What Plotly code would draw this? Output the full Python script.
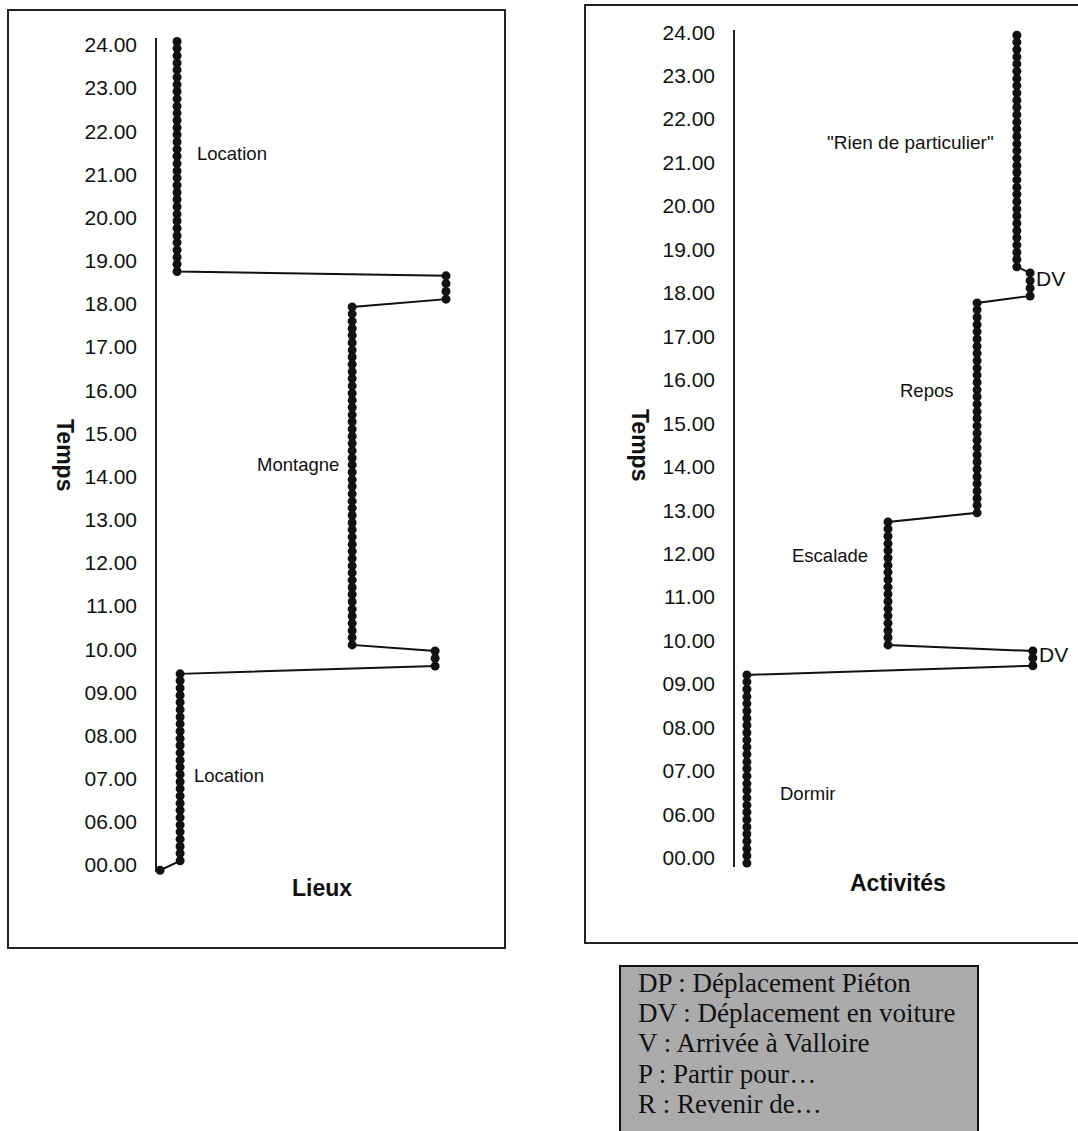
import plotly.graph_objects as go

W, H = 1078, 1131

# ---------------- data ----------------
TICK_LABELS = ["00.00", "06.00", "07.00", "08.00", "09.00", "10.00", "11.00",
               "12.00", "13.00", "14.00", "15.00", "16.00", "17.00", "18.00",
               "19.00", "20.00", "21.00", "22.00", "23.00", "24.00"]

# Lieux (left chart): time positions of each recorded point, per segment
lieux_start = [-0.12]
lieux_location_am = [0.10, 0.27, 0.43, 0.60, 0.77, 0.93, 1.10, 1.27, 1.43, 1.60,
                     1.77, 1.93, 2.10, 2.27, 2.43, 2.60, 2.77, 2.93, 3.10, 3.27,
                     3.43, 3.60, 3.77, 3.93, 4.10, 4.27, 4.43]
lieux_trajet_1 = [4.61, 4.79, 4.96]
lieux_montagne = [5.10, 5.27, 5.43, 5.60, 5.77, 5.93, 6.10, 6.27, 6.43, 6.60,
                  6.77, 6.93, 7.10, 7.27, 7.43, 7.60, 7.77, 7.93, 8.10, 8.27,
                  8.43, 8.60, 8.77, 8.93, 9.10, 9.27, 9.43, 9.60, 9.77, 9.93,
                  10.10, 10.27, 10.43, 10.60, 10.77, 10.93, 11.10, 11.27, 11.43,
                  11.60, 11.77, 11.93, 12.10, 12.27, 12.43, 12.60, 12.77, 12.93]
lieux_trajet_2 = [13.11, 13.29, 13.47, 13.65]
lieux_location_pm = [13.75, 13.92, 14.08, 14.25, 14.42, 14.58, 14.75, 14.92,
                     15.08, 15.25, 15.42, 15.58, 15.75, 15.92, 16.08, 16.25,
                     16.42, 16.58, 16.75, 16.92, 17.08, 17.25, 17.42, 17.58,
                     17.75, 17.92, 18.08, 18.25, 18.42, 18.58, 18.75, 18.92, 19.08]
lieux_segments = [lieux_start, lieux_location_am, lieux_trajet_1,
                  lieux_montagne, lieux_trajet_2, lieux_location_pm]
lieux_levels = [0.9, 6.8, 81.8, 57.4, 85.0, 5.9]

# Activités (right chart)
act_dormir = [-0.12, 0.05, 0.21, 0.38, 0.55, 0.71, 0.88, 1.05, 1.21, 1.38,
              1.55, 1.71, 1.88, 2.05, 2.21, 2.38, 2.55, 2.71, 2.88, 3.05,
              3.21, 3.38, 3.55, 3.71, 3.88, 4.05, 4.21]
act_dv_1 = [4.42, 4.60, 4.76]
act_escalade = [4.90, 5.07, 5.23, 5.40, 5.57, 5.73, 5.90, 6.07, 6.23, 6.40,
                6.57, 6.73, 6.90, 7.07, 7.23, 7.40, 7.57, 7.73]
act_repos = [7.94, 8.11, 8.27, 8.44, 8.61, 8.77, 8.94, 9.11, 9.27, 9.44,
             9.61, 9.77, 9.94, 10.11, 10.27, 10.44, 10.61, 10.77, 10.94, 11.11,
             11.27, 11.44, 11.61, 11.77, 11.94, 12.11, 12.27, 12.44, 12.61, 12.77]
act_dv_2 = [12.93, 13.11, 13.28, 13.46]
act_rien = [13.60, 13.77, 13.93, 14.10, 14.27, 14.43, 14.60, 14.77, 14.93,
            15.10, 15.27, 15.43, 15.60, 15.77, 15.93, 16.10, 16.27, 16.43,
            16.60, 16.77, 16.93, 17.10, 17.27, 17.43, 17.60, 17.77, 17.93,
            18.10, 18.27, 18.43, 18.60, 18.77, 18.93]
act_segments = [act_dormir, act_dv_1, act_escalade, act_repos, act_dv_2, act_rien]
act_levels = [3.5, 87.6, 45.0, 71.2, 86.8, 82.9]

LEGEND_LINES = ["DP : Déplacement Piéton", "DV : Déplacement en voiture",
                "V : Arrivée à Valloire", "P : Partir pour…", "R : Revenir de…"]


def build(segments, levels):
    xs, ys = [], []
    for seg, lv in zip(segments, levels):
        for v in seg:
            xs.append(lv)
            ys.append(v)
    return xs, ys


def px(x):
    return x / W


def py(y):
    return 1 - y / H


lx, ly = build(lieux_segments, lieux_levels)
ax_, ay_ = build(act_segments, act_levels)

fig = go.Figure()
mk = dict(size=9, color="#111111", symbol="circle")
ln = dict(color="#111111", width=2)
fig.add_trace(go.Scatter(x=lx, y=ly, mode="lines+markers", marker=mk, line=ln,
                         xaxis="x", yaxis="y", showlegend=False, cliponaxis=False))
fig.add_trace(go.Scatter(x=ax_, y=ay_, mode="lines+markers", marker=mk, line=ln,
                         xaxis="x2", yaxis="y2", showlegend=False, cliponaxis=False))

tickfont = dict(family="Liberation Sans, Arial, sans-serif", size=21, color="#111111")
yaxis_common = dict(tickvals=list(range(len(TICK_LABELS))), ticktext=TICK_LABELS,
                    showline=True, linecolor="#222222", linewidth=1.5,
                    showgrid=False, zeroline=False, ticks="outside", ticklen=14,
                    tickcolor="rgba(0,0,0,0)", tickfont=tickfont, fixedrange=True,
                    automargin=False)
xaxis_common = dict(visible=False, range=[0, 100], fixedrange=True,
                    automargin=False)

fig.update_layout(
    template="none",
    width=W, height=H, margin=dict(l=0, r=0, t=0, b=0, pad=0, autoexpand=False),
    paper_bgcolor="white", plot_bgcolor="rgba(0,0,0,0)",
    xaxis=dict(domain=[px(157), px(497)], anchor="y", **xaxis_common),
    yaxis=dict(domain=[py(872), py(38)], range=[-0.16, 19.16], anchor="x",
               **yaxis_common),
    xaxis2=dict(domain=[px(735), px(1075)], anchor="y2", **xaxis_common),
    yaxis2=dict(domain=[py(867), py(30)], range=[-0.21, 19.05], anchor="x2",
                **yaxis_common),
)

shapes = [
    dict(type="rect", xref="paper", yref="paper", x0=px(8), x1=px(505),
         y0=py(948), y1=py(10), line=dict(color="#222222", width=2)),
    dict(type="rect", xref="paper", yref="paper", x0=px(585), x1=px(1095),
         y0=py(943), y1=py(5), line=dict(color="#222222", width=2)),
    dict(type="rect", xref="paper", yref="paper", x0=px(620), x1=px(978),
         y0=py(1140), y1=py(966), fillcolor="#ababab",
         line=dict(color="#111111", width=2), layer="below"),
]
fig.update_layout(shapes=shapes)

sans = "Liberation Sans, Arial, sans-serif"
ann = []


def text(x, y, t, size=18.5, bold=False, anchor="center", angle=0, family=sans):
    ann.append(dict(xref="paper", yref="paper", x=px(x), y=py(y),
                    text=("<b>%s</b>" % t) if bold else t, showarrow=False,
                    xanchor=anchor, yanchor="middle", textangle=angle,
                    font=dict(family=family, size=size, color="#111111")))


text(232, 153, "Location")
text(229, 775, "Location")
text(298, 464, "Montagne")
text(322, 888, "Lieux", size=23, bold=True)
text(65, 455, "Temps", size=23, bold=True, angle=90)

text(910, 142, "\"Rien de particulier\"", size=19)
text(927, 390, "Repos")
text(830, 555, "Escalade")
text(808, 793, "Dormir")
text(1034, 278, "DV", size=21, anchor="left")
text(1037, 654, "DV", size=21, anchor="left")
text(898, 883, "Activités", size=23, bold=True)
text(640, 445, "Temps", size=23, bold=True, angle=90)

for i, line in enumerate(LEGEND_LINES):
    text(636, 983 + i * 30.2, line, size=27, anchor="left",
         family="Liberation Serif, Times New Roman, serif")

fig.update_layout(annotations=ann)
fig.write_html("out.html", config={"displayModeBar": False},
               post_script="document.body.style.margin='0';document.body.style.padding='0';")
